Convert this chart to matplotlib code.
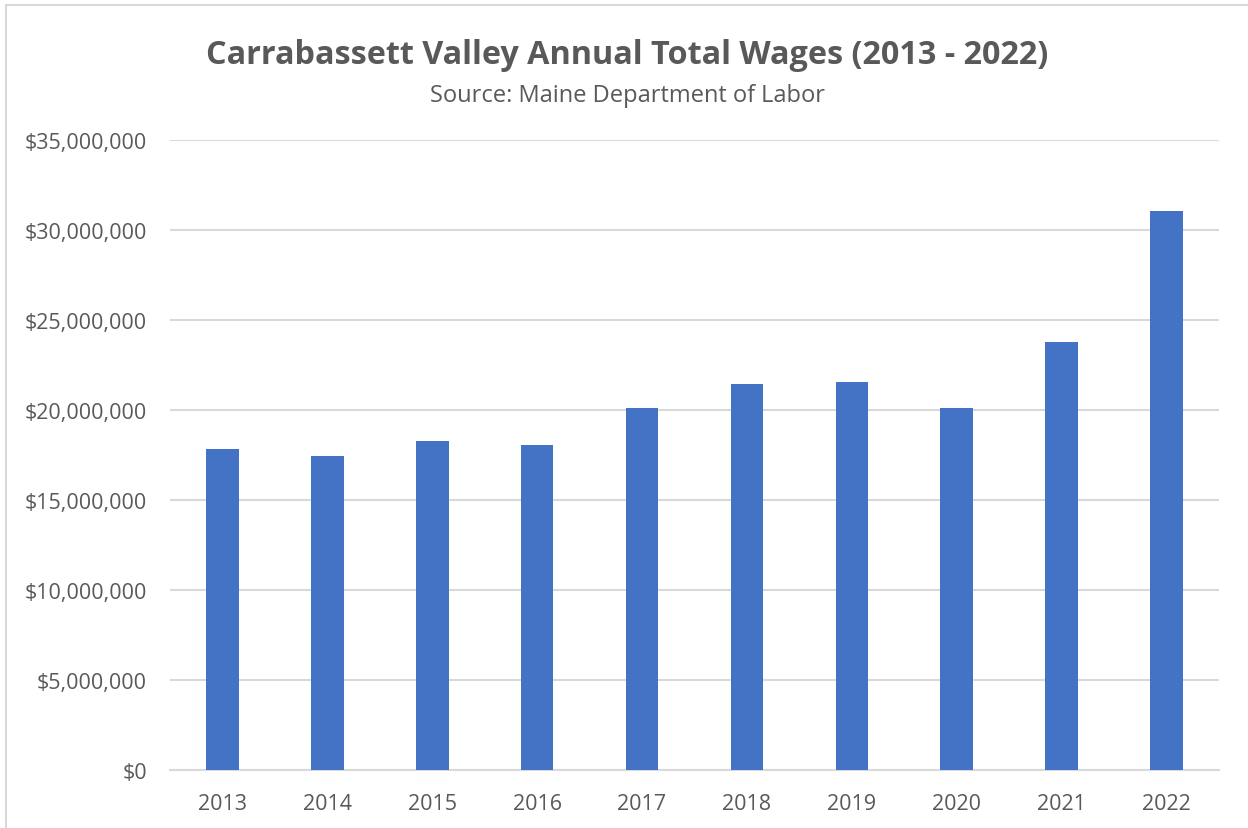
import matplotlib
matplotlib.use("Agg")
import matplotlib.pyplot as plt
from matplotlib.ticker import FuncFormatter, MultipleLocator
from matplotlib.lines import Line2D

years = ["2013", "2014", "2015", "2016", "2017", "2018", "2019", "2020", "2021", "2022"]
wages = [17.82e6, 17.44e6, 18.26e6, 18.06e6, 20.13e6, 21.44e6, 21.56e6, 20.11e6, 23.76e6, 31.06e6]

title = "Carrabassett Valley Annual Total Wages (2013 - 2022)"
subtitle = "Source: Maine Department of Labor"

W, H = 1248, 829
fig = plt.figure(figsize=(W / 100, H / 100), dpi=100)
plt.rcParams['font.family'] = ['Open Sans', 'DejaVu Sans']
text_color = "#595959"
grid_color = "#d9d9d9"

ax = fig.add_axes([170 / W, 1 - 771 / H, (1219 - 170) / W, (771 - 141) / H])
x = list(range(len(years)))
ax.bar(x, wages, width=0.31, color="#4472c4", zorder=3)
ax.set_xlim(-0.5, len(years) - 0.5)
ax.set_ylim(0, 35e6)
ax.yaxis.set_major_locator(MultipleLocator(5e6))
ax.yaxis.set_major_formatter(FuncFormatter(lambda v, p: f"${v:,.0f}"))
ax.set_xticks(x)
ax.set_xticklabels(years)
ax.grid(axis="y", color=grid_color, linewidth=1.5, zorder=0)
for s in ["top", "right", "left"]:
    ax.spines[s].set_visible(False)
ax.spines["bottom"].set_color(grid_color)
ax.spines["bottom"].set_linewidth(1.5)
ax.tick_params(axis="both", length=0, colors=text_color, labelsize=15.5)
ax.tick_params(axis="y", pad=16.5)
ax.tick_params(axis="x", pad=16.5)

fig.text(627 / W, 1 - 64 / H, title, ha="center", va="baseline", fontsize=23.3,
         fontweight="bold", color=text_color)
fig.text(627 / W, 1 - 102 / H, subtitle, ha="center", va="baseline", fontsize=17,
         color=text_color)

# chart border (left and top visible)
fig.add_artist(Line2D([5.5 / W, 5.5 / W], [0, 1 - 6 / H], transform=fig.transFigure,
                      color=grid_color, linewidth=1.5))
fig.add_artist(Line2D([5.5 / W, 1], [1 - 6 / H, 1 - 6 / H], transform=fig.transFigure,
                      color=grid_color, linewidth=1.5))

fig.savefig("out.png", dpi=100, facecolor="white")
